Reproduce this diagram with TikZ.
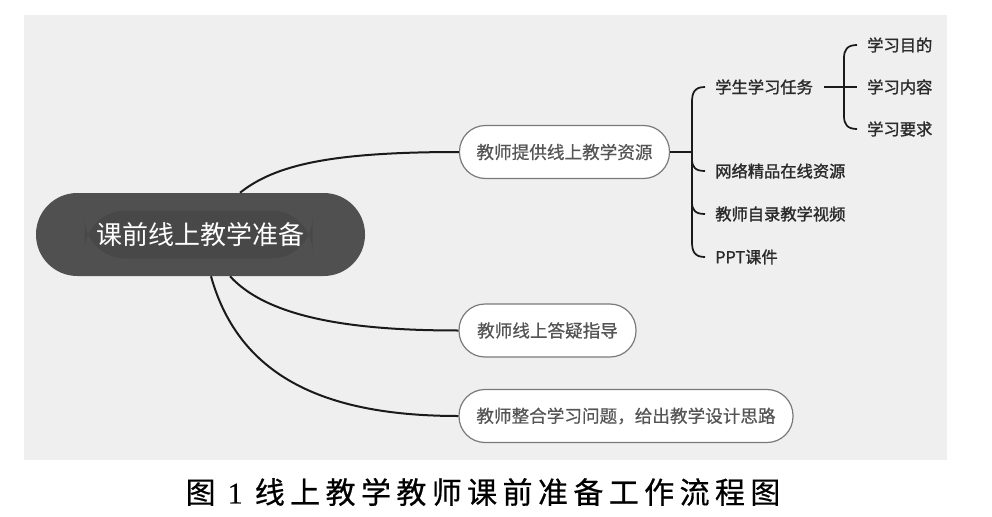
\documentclass[tikz,border=0pt]{standalone}
\usepackage{fontspec}
\setmainfont{Noto Sans CJK SC}
\newfontfamily\capfont[LetterSpace=18,FakeBold=0.6]{Noto Sans CJK SC}
\newfontfamily\capserif[FakeBold=0.6]{Liberation Serif}
\newfontfamily\leaffont[FakeBold=1.4]{Noto Sans CJK SC}
\newfontfamily\topicfont[FakeBold=0.6]{Noto Sans CJK SC}
\usetikzlibrary{calc}
\definecolor{panelgray}{HTML}{EFEFEF}
\definecolor{rootgray}{HTML}{505050}
\definecolor{innergray}{HTML}{484848}
\definecolor{bordergray}{HTML}{7A7A7A}
\definecolor{topictext}{HTML}{555555}
\definecolor{leaftext}{HTML}{2A2A2A}
\definecolor{linkblack}{HTML}{1A1A1A}
\tikzset{
  rootbox/.style={fill=rootgray, rounded corners=31pt, minimum width=246.75pt,
    minimum height=62.25pt, text=white, inner sep=0pt,
    font=\fontsize{19.5}{22}\selectfont,
    path picture={\fill[innergray]
      ([xshift=-87pt,yshift=-18pt]path picture bounding box.center) rectangle
      ([xshift=84pt,yshift=18pt]path picture bounding box.center);}},
  topicbox/.style={draw=bordergray, line width=0.9pt, fill=white, rounded corners=19.5pt,
    minimum height=39.75pt, inner sep=0pt, text=topictext,
    font=\topicfont\fontsize{13.2}{15}\selectfont},
  leaf/.style={anchor=west, inner sep=0pt, text=leaftext,
    font=\leaffont\fontsize{12.2}{14}\selectfont},
  link/.style={line width=1.5pt, draw=linkblack},
  bracelink/.style={line width=1.3pt, draw=linkblack},
}
\begin{document}
\begin{tikzpicture}[x=0.75pt,y=-0.75pt]
\useasboundingbox (0,0) rectangle (992,517);
\fill[white] (0,0) rectangle (992,517);
\fill[panelgray] (24,15) rectangle (947,460);

% nodes
\node[rootbox] (root) at (200.5,234.5) {课前线上教学准备};
\node[topicbox, minimum width=157.5pt] (A) at (564.5,152) {教师提供线上教学资源};
\node[topicbox, minimum width=132.75pt] (B) at (547.5,330.5) {教师线上答疑指导};
\node[topicbox, minimum width=250.5pt] (C) at (626,416) {教师整合学习问题，给出教学设计思路};

\node[leaf] (t1) at (715,87) {学生学习任务};
\node[leaf] (t2) at (715,171) {网络精品在线资源};
\node[leaf] (t3) at (715,214) {教师自录教学视频};
\node[leaf] (t4) at (715,257) {PPT课件};

\node[leaf] (s1) at (867,45) {学习目的};
\node[leaf] (s2) at (867,87) {学习内容};
\node[leaf] (s3) at (867,129) {学习要求};

% connectors from root
\draw[link] ($(root.north)+(39.5,0)$) .. controls (275,165) and (330,152) .. (A.west);
\draw[link] ($(root.south)+(29.5,0)$) .. controls (270,320) and (360,330.5) .. (B.west);
\draw[link] ($(root.south)+(10.5,0)$) .. controls (240,380) and (330,416) .. (C.west);

% first bracket
\coordinate (b1) at (692,152);
\draw[link] (A.east) -- (b1);
\draw[bracelink] ($(t1.west)+(-10,0)$) .. controls (695,87) and (692,92) .. (692,102)
  -- (692,242) .. controls (692,252) and (695,257) .. ($(t4.west)+(-10,0)$);
\draw[bracelink] (692,159) .. controls (692,167) and (695,171) .. ($(t2.west)+(-10,0)$);
\draw[bracelink] (692,202) .. controls (692,210) and (695,214) .. ($(t3.west)+(-10,0)$);

% second bracket
\draw[bracelink] ($(t1.east)+(11,0)$) -- ($(s2.west)+(-10,0)$);
\draw[bracelink] ($(s1.west)+(-10,0)$) .. controls (847,45) and (844,50) .. (844,58)
  -- (844,116) .. controls (844,124) and (847,129) .. ($(s3.west)+(-10,0)$);

% caption
\node (cap) at (483,492) {\fontsize{22.5}{26}\selectfont\capfont 图 {\capserif 1} 线上教学教师课前准备工作流程图};
\end{tikzpicture}
\end{document}
